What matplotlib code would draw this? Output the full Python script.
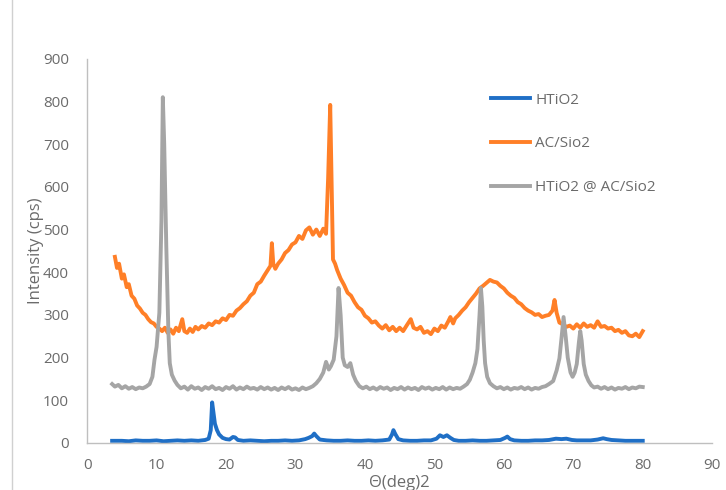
import matplotlib
matplotlib.use('Agg')
import matplotlib.pyplot as plt
from matplotlib.lines import Line2D

# HTiO2 (blue)
htio2_x = [3.6, 5, 6, 7, 8, 9, 10, 11, 12, 13, 14, 15, 16, 17, 17.5, 17.8, 18.0, 18.2, 18.4, 18.7,
           19.0, 19.5, 20.0, 20.5, 21.0, 21.3, 21.7, 22.5, 23.5, 24.5, 25.5, 26.5, 27.5, 28.5, 29.5,
           30.5, 31.4, 31.9, 32.4, 32.7, 33.0, 33.5, 34.5, 35.5, 36.5, 37.5, 38.5, 39.5, 40.5, 41.5,
           42.5, 43.5, 43.9, 44.1, 44.4, 44.8, 45.5, 46.5, 47.5, 48.5, 49.5, 50.3, 50.8, 51.3, 51.8,
           52.3, 52.8, 53.5, 54.5, 55.5, 56.5, 57.5, 58.5, 59.5, 60.2, 60.5, 60.9, 61.5, 62.5, 63.5,
           64.5, 65.5, 66.5, 67.5, 68.3, 69.0, 69.8, 70.5, 71.5, 72.5, 73.5, 74.3, 74.8, 75.5, 76.5,
           77.5, 78.5, 79.5, 80.0]
htio2_y = [5, 5, 4, 6, 5, 5, 6, 4, 5, 6, 5, 6, 5, 7, 10, 30, 95, 70, 45, 30,
           20, 12, 9, 8, 14, 13, 7, 5, 6, 5, 4, 5, 5, 6, 5,
           6, 9, 12, 16, 22, 16, 8, 6, 5, 5, 6, 5, 5, 6, 5,
           6, 8, 20, 30, 20, 9, 6, 5, 5, 6, 6, 10, 18, 14, 18,
           12, 7, 5, 5, 6, 5, 5, 6, 7, 12, 15, 9, 6, 5, 5,
           6, 6, 7, 10, 9, 10, 7, 6, 6, 6, 8, 11, 9, 7, 6,
           5, 5, 5, 5]

# AC/Sio2 (orange)
acsio2_x = [4.0, 4.3, 4.6, 5.0, 5.3, 5.7, 6.0, 6.4, 6.8, 7.2, 7.6, 8.0, 8.4, 8.8, 9.2, 9.6, 10.0,
            10.4, 10.8, 11.2, 11.6, 12.0, 12.4, 12.8, 13.2, 13.7, 14.0, 14.4, 14.8, 15.2, 15.6, 16.0,
            16.5, 17.0, 17.5, 18.0, 18.5, 19.0, 19.5, 20.0, 20.5, 21.0, 21.5, 22.0, 22.5, 23.0, 23.5,
            24.0, 24.5, 25.0, 25.5, 26.0, 26.4, 26.6, 26.8, 27.1, 27.5, 28.0, 28.5, 29.0, 29.5, 30.0,
            30.5, 31.0, 31.5, 32.0, 32.5, 33.0, 33.5, 34.0, 34.4, 34.7, 35.0, 35.2, 35.4, 35.7, 36.0,
            36.5, 37.0, 37.5, 38.0, 38.5, 39.0, 39.5, 40.0, 40.5, 41.0, 41.5, 42.0, 42.5, 43.0, 43.5,
            44.0, 44.5, 45.0, 45.5, 46.0, 46.6, 47.0, 47.5, 48.0, 48.5, 49.0, 49.5, 50.0, 50.5, 51.0,
            51.5, 52.0, 52.3, 52.7, 53.0, 53.5, 54.0, 54.5, 55.0, 55.5, 56.0, 56.5, 57.0, 57.5, 58.0,
            58.5, 59.0, 59.5, 60.0, 60.5, 61.0, 61.5, 62.0, 62.5, 63.0, 63.5, 64.0, 64.5, 65.0, 65.5,
            66.0, 66.5, 67.0, 67.3, 67.6, 68.0, 68.5, 69.0, 69.5, 70.0, 70.5, 71.0, 71.5, 72.0, 72.5,
            73.0, 73.5, 74.0, 74.5, 75.0, 75.5, 76.0, 76.5, 77.0, 77.5, 78.0, 78.5, 79.0, 79.5, 80.0]
acsio2_y = [436, 410, 420, 385, 395, 365, 372, 345, 338, 322, 315, 305, 300, 290, 283, 280, 272,
            268, 262, 270, 258, 266, 256, 270, 262, 290, 262, 258, 268, 260, 272, 266,
            274, 270, 280, 276, 285, 282, 292, 288, 300, 298, 310, 316, 325, 332, 345,
            352, 372, 378, 392, 405, 415, 468, 420, 408, 420, 430, 445, 452, 465, 470,
            485, 478, 498, 505, 488, 500, 485, 502, 490, 620, 792, 610, 430, 420, 405,
            385, 370, 352, 345, 330, 318, 312, 298, 292, 282, 285, 275, 268, 276, 264,
            272, 262, 270, 262, 275, 290, 270, 266, 272, 258, 262, 255, 268, 262, 275,
            270, 285, 295, 280, 292, 300, 310, 318, 330, 340, 350, 362, 368, 375, 382,
            378, 376, 368, 362, 352, 345, 340, 330, 325, 316, 310, 306, 300, 302, 295,
            298, 300, 310, 335, 305, 282, 278, 272, 275, 268, 278, 270, 280, 272, 276,
            270, 285, 272, 274, 268, 270, 262, 265, 258, 262, 252, 250, 256, 248, 262]

# HTiO2 @ AC/Sio2 (grey)
comp_x = [3.6, 4.0, 4.5, 5.0, 5.5, 6.0, 6.5, 7.0, 7.5, 8.0, 8.5, 9.0, 9.4, 9.7, 10.0, 10.4, 10.7,
          10.9, 11.1, 11.4, 11.7, 11.9, 12.2, 12.6, 13.0, 13.5, 14.0, 14.5, 15.0, 15.5, 16.0, 16.5,
          17.0, 17.5, 18.0, 18.5, 19.0, 19.5, 20.0, 20.5, 21.0, 21.5, 22.0, 22.5, 23.0, 23.5, 24.0,
          24.5, 25.0, 25.5, 26.0, 26.5, 27.0, 27.5, 28.0, 28.5, 29.0, 29.5, 30.0, 30.5, 31.0, 31.5,
          32.0, 32.5, 33.0, 33.5, 34.0, 34.4, 34.8, 35.1, 35.5, 35.9, 36.2, 36.5, 36.8, 37.1, 37.5,
          37.9, 38.3, 38.7, 39.2, 39.7, 40.2, 40.7, 41.2, 41.7, 42.2, 42.7, 43.2, 43.7, 44.2, 44.7,
          45.2, 45.7, 46.2, 46.7, 47.2, 47.7, 48.2, 48.7, 49.2, 49.7, 50.2, 50.7, 51.2, 51.7, 52.2,
          52.7, 53.2, 53.7, 54.2, 54.7, 55.1, 55.5, 55.9, 56.2, 56.5, 56.7, 56.9, 57.1, 57.3, 57.6,
          58.0, 58.5, 59.0, 59.5, 60.0, 60.5, 61.0, 61.5, 62.0, 62.5, 63.0, 63.5, 64.0, 64.5, 65.0,
          65.5, 66.0, 66.5, 67.1, 67.6, 68.0, 68.3, 68.6, 68.9, 69.2, 69.6, 69.9, 70.2, 70.5, 70.8,
          71.0, 71.2, 71.5, 71.8, 72.2, 72.6, 73.0, 73.5, 74.0, 74.5, 75.0, 75.5, 76.0, 76.5, 77.0,
          77.5, 78.0, 78.5, 79.0, 79.5, 80.0]
comp_y = [138, 132, 136, 128, 133, 127, 131, 126, 130, 128, 132, 138, 155, 195, 225, 305, 520,
          810, 700, 460, 260, 187, 160, 146, 136, 128, 132, 125, 133, 127, 130, 124,
          131, 127, 133, 126, 129, 124, 131, 127, 133, 125, 130, 126, 132, 127, 129,
          125, 131, 126, 130, 125, 129, 124, 130, 126, 131, 125, 128, 124, 130, 126,
          129, 133, 140, 150, 165, 190, 172, 180, 195, 250, 363, 300, 200, 182, 178,
          187, 160, 145, 133, 128, 132, 126, 130, 125, 131, 127, 130, 124, 129, 126,
          131, 125, 130, 126, 129, 124, 131, 127, 130, 125, 129, 126, 131, 125, 130,
          126, 129, 127, 132, 138, 148, 165, 187, 220, 300, 363, 320, 240, 187, 155,
          140, 133, 128, 131, 126, 130, 125, 129, 127, 131, 126, 130, 125, 129, 127,
          131, 133, 138, 145, 170, 198, 245, 295, 250, 200, 165, 155, 165, 185, 235,
          262, 240, 185, 160, 145, 135, 130, 132, 127, 131, 126, 130, 125, 129, 127,
          131, 126, 130, 128, 132, 131]

series_names = ['HTiO2', 'AC/Sio2', 'HTiO2 @ AC/Sio2']
series_colors = ['#1F6FC6', '#FF7F27', '#A5A5A5']

plt.rcParams['font.family'] = ['Open Sans', 'DejaVu Sans']
txt_color = '#6B6B6B'

fig = plt.figure(figsize=(7.26, 4.9), dpi=100)
ax = fig.add_axes([0.12, 0.096, 0.861, 0.784])

ax.plot(htio2_x, htio2_y, color=series_colors[0], lw=2.8, label=series_names[0], solid_joinstyle='round')
ax.plot(acsio2_x, acsio2_y, color=series_colors[1], lw=2.8, label=series_names[1], solid_joinstyle='round')
ax.plot(comp_x, comp_y, color=series_colors[2], lw=2.8, label=series_names[2], solid_joinstyle='round')

ax.set_xlim(0, 90)
ax.set_ylim(0, 900)
ax.set_xticks(range(0, 91, 10))
ax.set_yticks(range(0, 901, 100))
ax.tick_params(length=0, labelsize=11, colors=txt_color)
ax.tick_params(axis='x', pad=11)
ax.tick_params(axis='y', pad=13)

for s in ['top', 'right']:
    ax.spines[s].set_visible(False)
for s in ['left', 'bottom']:
    ax.spines[s].set_color('#BFBFBF')
    ax.spines[s].set_linewidth(1.0)

ax.set_xlabel('Θ(deg)2', fontsize=12, color=txt_color, labelpad=1)
ax.set_ylabel('Intensity (cps)', fontsize=12, color=txt_color, labelpad=-1)

leg = ax.legend(loc='upper left', bbox_to_anchor=(477 / 726, 1 - 79 / 490),
                bbox_transform=fig.transFigure, frameon=False, fontsize=11,
                handlelength=2.6, handletextpad=0.3, labelspacing=1.87)
for t in leg.get_texts():
    t.set_color(txt_color)

# outer chart border on the left
fig.add_artist(Line2D([12 / 726, 12 / 726], [0, 1], transform=fig.transFigure,
                      color='#D0D0D0', lw=1.0))

fig.savefig('out.png', dpi=100)
